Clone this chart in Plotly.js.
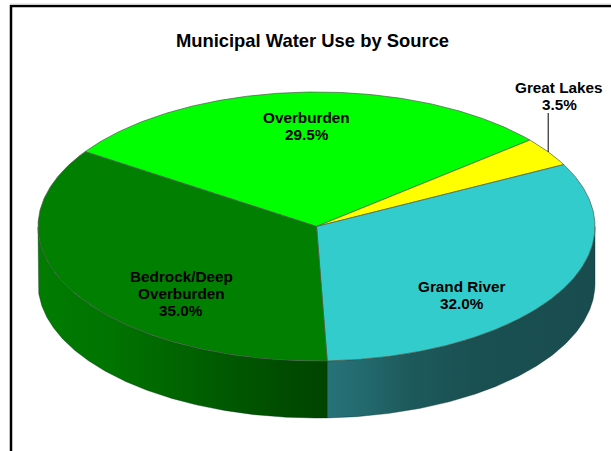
<!DOCTYPE html>
<html>
<head>
<meta charset="utf-8">
<script src="https://cdn.plot.ly/plotly-3.0.1.min.js"></script>
<style>html,body{margin:0;padding:0;background:#fff;overflow:hidden}#chart{width:611px;height:451px}</style>
</head>
<body>
<div id="chart"></div>
<script>
// Shares of municipal water use, in clockwise order from the Overburden wedge
const categories = ["Overburden", "Great Lakes", "Grand River", "Bedrock/Deep Overburden"];
const shares = [29.5, 3.5, 32.0, 35.0];
const labelLines = [["Overburden"], ["Great Lakes"], ["Grand River"], ["Bedrock/Deep", "Overburden"]];
const chartTitle = "Municipal Water Use by Source";

// Appearance
const topColors = ["#00ff00", "#ffff00", "#33cccc", "#007f00"];
const rimColor = "#4a5a4a";
const wallRamps = {
  "Grand River": [[0, "#27727a"], [0.13, "#236a6e"], [0.3, "#1d5a5c"], [0.55, "#1a5052"], [1, "#194c4e"]],
  "Bedrock/Deep Overburden": [[0, "#007c00"], [0.25, "#007400"], [0.55, "#006000"], [0.85, "#004c00"], [1, "#004400"]]
};
const labelAnchors = [[306.5, 117], [559, 87], [461.5, 286], [181, 276]];

// Disc geometry on pixel-sized axes
const cx = 316.5, cy = 226.5, rx = 278.5, ry = 134.5, depth = 57;
const startAngle = 146.2;   // degrees, where the first wedge begins
const lineStep = 17;

const rad = d => d * Math.PI / 180;
const ex = a => cx + rx * Math.cos(rad(a));
const ey = a => cy - ry * Math.sin(rad(a));
function arc(a0, a1) {
  const n = Math.max(2, Math.ceil(Math.abs(a1 - a0) * 2));
  return Array.from({length: n + 1}, (_, i) => a0 + (a1 - a0) * i / n);
}

// Angular span of each wedge, running clockwise
const total = shares.reduce((s, v) => s + v, 0);
let cursor = startAngle;
const spans = shares.map(v => {
  const a0 = cursor;
  cursor -= v / total * 360;
  return [a0, cursor];
});

const traces = [];

// Outer walls for the two front wedges, limited to the near half of the rim
categories.forEach((name, i) => {
  const ramp = wallRamps[name];
  if (!ramp) return;
  const vis = arc(spans[i][0], spans[i][1]).filter(a => Math.sin(rad(a)) <= 0.001);
  const xs = vis.map(ex), ys = vis.map(ey);
  const xPoly = xs.concat(xs.slice().reverse());
  const yPoly = ys.concat(ys.map(y => y + depth).reverse());
  xPoly.push(xPoly[0]); yPoly.push(yPoly[0]);
  traces.push({
    type: "scatter", mode: "lines", name: name + " wall", x: xPoly, y: yPoly,
    fill: "toself", line: {width: 0.6, color: "rgba(0,40,30,0.6)"},
    fillgradient: {
      type: "horizontal", colorscale: ramp,
      start: Math.min(...xs), stop: Math.max(...xs)
    },
    hoverinfo: "skip", showlegend: false
  });
});

// Top face wedges
categories.forEach((name, i) => {
  const pts = arc(spans[i][0], spans[i][1]);
  traces.push({
    type: "scatter", mode: "lines", name: name,
    x: [cx].concat(pts.map(ex), [cx]),
    y: [cy].concat(pts.map(ey), [cy]),
    fill: "toself", fillcolor: topColors[i],
    line: {width: 0.7, color: rimColor},
    hoverinfo: "name", showlegend: false
  });
});

// Leader from the Great Lakes label down to its wedge
const glIndex = categories.indexOf("Great Lakes");
const glMid = (spans[glIndex][0] + spans[glIndex][1]) / 2;
traces.push({
  type: "scatter", mode: "lines", x: [ex(glMid), ex(glMid)], y: [labelAnchors[glIndex][1] + 26, ey(glMid)],
  line: {width: 1, color: "#000"}, hoverinfo: "skip", showlegend: false
});

// One annotation per text line keeps the tight line spacing
const annotations = [];
categories.forEach((name, i) => {
  const lines = labelLines[i].concat([shares[i].toFixed(1) + "%"]);
  lines.forEach((text, k) => {
    annotations.push({
      xref: "x", yref: "y", x: labelAnchors[i][0], y: labelAnchors[i][1] + k * lineStep,
      text: text, showarrow: false, xanchor: "center", yanchor: "middle",
      font: {family: "Liberation Sans, Arial, sans-serif", size: 15.3, color: "#000", weight: 700}
    });
  });
});

const layout = {
  width: 611, height: 451,
  margin: {l: 0, r: 0, t: 0, b: 0},
  paper_bgcolor: "#fff", plot_bgcolor: "#fff",
  title: {
    text: "<b>" + chartTitle + "</b>", x: 312.5 / 611, xref: "paper", xanchor: "center",
    y: 1 - 41 / 451, yref: "paper", yanchor: "middle",
    font: {family: "Liberation Sans, Arial, sans-serif", size: 18.4, color: "#000"}
  },
  xaxis: {range: [0, 611], visible: false, fixedrange: true},
  yaxis: {range: [451, 0], visible: false, fixedrange: true},
  showlegend: false,
  annotations: annotations,
  shapes: [
    {type: "path", xref: "x", yref: "y", path: "M 11 451 L 11 6 L 611 6", line: {color: "#000", width: 2.5}},
    {type: "line", xref: "x", yref: "y", x0: 10, x1: 611, y0: 4, y1: 4, line: {color: "#dddddd", width: 1}}
  ]
};

Plotly.newPlot("chart", traces, layout, {displayModeBar: false, staticPlot: true});
</script>
</body>
</html>
